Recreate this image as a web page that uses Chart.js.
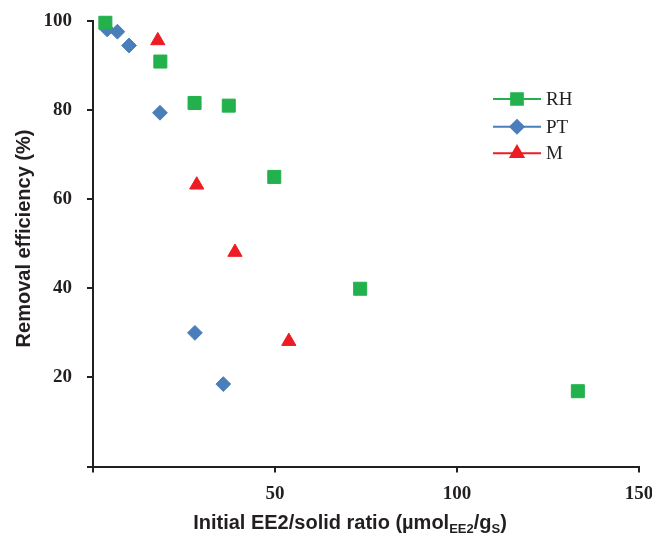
<!DOCTYPE html>
<html>
<head>
<meta charset="utf-8">
<script src="https://cdn.jsdelivr.net/npm/chart.js@4.4.1/dist/chart.umd.min.js"></script>
<style>
html,body{margin:0;padding:0;background:#fff;}
canvas{display:block;}
</style>
</head>
<body>
<canvas id="c" width="652" height="535"></canvas>
<script>
// ---- data ----
const seriesNames = ['RH', 'PT', 'M'];
const rhX = [3.4, 18.5, 27.9, 37.3, 49.8, 73.4, 133.2];
const rhY = [99.6, 90.9, 81.6, 81.0, 65.0, 39.9, 16.9];
const ptX = [3.9, 6.7, 9.9, 18.4, 28.0, 35.8];
const ptY = [98.1, 97.6, 94.5, 79.4, 30.0, 18.5];
const mX = [17.8, 28.5, 39.0, 53.8];
const mY = [95.6, 63.2, 48.1, 28.1];
const xTicks = [0, 50, 100, 150];
const yTicks = [0, 20, 40, 60, 80, 100];

const axisColor = '#231f20';
const colors = ['#22b14c', '#4a7ebb', '#ed1c24'];
const styles = ['rect', 'rectRot', 'triangle'];
const radii = [9.2, 7.4, 8.2];

function pts(xs, ys) { return xs.map((x, i) => ({x: x, y: ys[i]})); }

const datasets = [pts(rhX, rhY), pts(ptX, ptY), pts(mX, mY)].map((d, i) => ({
  label: seriesNames[i],
  data: d,
  pointStyle: styles[i],
  pointRadius: radii[i],
  pointHoverRadius: radii[i],
  backgroundColor: colors[i],
  borderColor: colors[i],
  pointBorderWidth: 1,
  showLine: false,
  clip: false
}));

const titlePlugin = {
  id: 'titles',
  afterDraw(chart) {
    const ctx = chart.ctx;
    ctx.save();
    ctx.fillStyle = axisColor;
    // y title
    ctx.font = 'bold 20px "Liberation Sans", Arial, sans-serif';
    ctx.translate(30, 238.5);
    ctx.rotate(-Math.PI / 2);
    ctx.textAlign = 'center';
    ctx.textBaseline = 'alphabetic';
    ctx.fillText('Removal efficiency (%)', 0, 0);
    ctx.restore();

    // x title with subscripts
    ctx.save();
    ctx.fillStyle = axisColor;
    ctx.textAlign = 'left';
    ctx.textBaseline = 'alphabetic';
    const big = 'bold 20px "Liberation Sans", Arial, sans-serif';
    const small = 'bold 13px "Liberation Sans", Arial, sans-serif';
    const parts = [
      ['Initial EE2/solid ratio (\u00b5mol', big, 0],
      ['EE2', small, 4],
      ['/g', big, 0],
      ['S', small, 4],
      [')', big, 0]
    ];
    let total = 0;
    parts.forEach(p => { ctx.font = p[1]; total += ctx.measureText(p[0]).width; });
    let x = 350 - total / 2;
    const base = 529;
    parts.forEach(p => {
      ctx.font = p[1];
      ctx.fillText(p[0], x, base + p[2]);
      x += ctx.measureText(p[0]).width;
    });
    ctx.restore();

    // legend
    ctx.save();
    const lx0 = 493, lx1 = 541, rows = [99, 126.7, 153.3];
    chart.data.datasets.forEach((ds, i) => {
      const y = rows[i];
      ctx.strokeStyle = ds.borderColor;
      ctx.lineWidth = 2;
      ctx.beginPath();
      ctx.moveTo(lx0, y);
      ctx.lineTo(lx1, y);
      ctx.stroke();
      ctx.fillStyle = ds.backgroundColor;
      Chart.helpers.drawPoint(ctx, {pointStyle: ds.pointStyle, radius: ds.pointRadius * 0.9, borderWidth: 1, rotation: 0}, (lx0 + lx1) / 2, y);
      ctx.fillStyle = axisColor;
      ctx.font = '19px "Liberation Serif", "Times New Roman", serif';
      ctx.textAlign = 'left';
      ctx.textBaseline = 'middle';
      ctx.fillText(ds.label, 546, y + 1);
    });
    ctx.restore();
  }
};

new Chart(document.getElementById('c'), {
  type: 'scatter',
  data: { datasets: datasets },
  options: {
    responsive: false,
    animation: false,
    events: [],
    layout: { padding: { top: 21, right: 13, left: 0, bottom: 0 } },
    plugins: { legend: { display: false }, tooltip: { enabled: false } },
    scales: {
      x: {
        type: 'linear',
        min: 0, max: 150,
        afterBuildTicks: s => { s.ticks = xTicks.map(v => ({value: v})); },
        afterFit: s => { s.height = 68.5; s.paddingLeft = 0; s.paddingRight = 0; },
        ticks: {
          callback: v => v === 0 ? '' : String(v),
          color: axisColor,
          padding: 10,
          maxRotation: 0,
          font: { family: '"Liberation Serif", "Times New Roman", serif', size: 19, weight: 'bold' }
        },
        grid: { drawOnChartArea: false, drawTicks: true, tickLength: 6, color: axisColor, lineWidth: 2 },
        border: { display: true, color: axisColor, width: 2 }
      },
      y: {
        type: 'linear',
        min: 0, max: 100,
        afterBuildTicks: s => { s.ticks = yTicks.map(v => ({value: v})); },
        afterFit: s => { s.width = 93; s.paddingTop = 0; s.paddingBottom = 0; },
        ticks: {
          callback: v => v === 0 ? '' : String(v),
          color: axisColor,
          padding: 15,
          font: { family: '"Liberation Serif", "Times New Roman", serif', size: 19, weight: 'bold' }
        },
        grid: { drawOnChartArea: false, drawTicks: true, tickLength: 6, color: axisColor, lineWidth: 2 },
        border: { display: true, color: axisColor, width: 2 }
      }
    }
  },
  plugins: [titlePlugin]
});
</script>
</body>
</html>
